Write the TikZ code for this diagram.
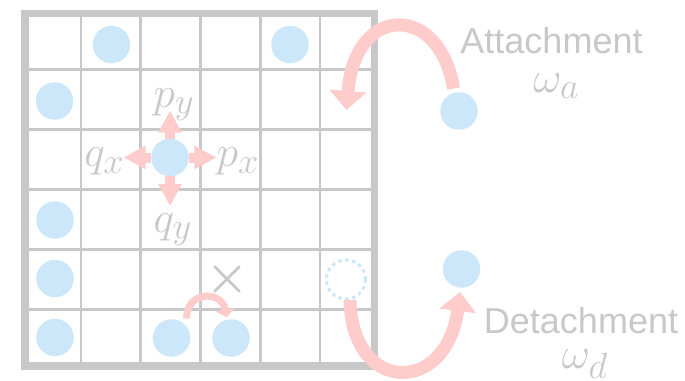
\documentclass[tikz,border=0pt]{standalone}
\usepackage{fontspec}
\newfontfamily\labelsans{Liberation Sans}
\usetikzlibrary{arrows.meta,calc,shapes.misc}
\definecolor{wall}{HTML}{C8C8C8}
\definecolor{label}{HTML}{C8C8C8}
\definecolor{part}{HTML}{CCE6FA}
\definecolor{move}{HTML}{FFCCCC}
\tikzset{
  every node/.style={text=label},
  particle/.style={circle, fill=part, minimum size=0.75cm, inner sep=0pt, outer sep=0pt},
  vacancy/.style={circle, draw=part, line width=0.06cm, dash pattern=on 0.07cm off 0.07cm,
                  minimum size=0.78cm, inner sep=0pt, outer sep=0pt},
  blocked/.style={cross out, draw=label, line width=0.05cm, minimum size=0.46cm, inner sep=0pt},
  rate/.style={font=\fontsize{30}{34}\selectfont, inner sep=0pt, anchor=base},
  caption/.style={font=\labelsans\fontsize{20.5}{24}\selectfont, inner sep=0pt, anchor=base},
  % arrows: four neighbour jumps, exchange with the reservoir, blocked hop
  jump/.style={draw=move, line width=0.2cm, -{Triangle[length=0.44cm,width=0.44cm]}},
  swing/.style={draw=move, line width=0.26cm, -{Triangle[length=0.38cm,width=0.72cm]}},
  hop/.style={draw=move, line width=0.14cm, -{Triangle[length=0.16cm,width=0.38cm]}},
}

\begin{document}
\begin{tikzpicture}
\useasboundingbox (0,0) rectangle (13.7,-7.62);

% ================= lattice =================
\foreach \i in {1,...,5}{
  \draw[wall, line width=0.055cm] (0.425+1.195*\i,-0.27) -- (0.425+1.195*\i,-7.32);
  \draw[wall, line width=0.055cm] (0.5,-0.2-1.197*\i) -- (7.49,-0.2-1.197*\i);
}
\draw[wall, line width=0.15cm] (0.5,-0.27) rectangle (7.49,-7.32);

% occupied sites
\foreach \n/\x/\y in {s1/2.23/-0.89, s2/5.80/-0.89, s3/1.09/-2.02,
                      s4/1.10/-4.40, s5/1.10/-5.57, s6/1.10/-6.75}
  \node[particle] (\n) at (\x,\y) {};

% ---- one particle and its four jump rates ----
\node[particle] (mid) at (3.40,-3.15) {};
\coordinate (pxEnd) at ($(mid)+(0.93,0)$);
\coordinate (qxEnd) at ($(mid)+(-0.93,0)$);
\coordinate (pyEnd) at ($(mid)+(0,0.94)$);
\coordinate (qyEnd) at ($(mid)+(0,-0.97)$);
\draw[jump] (mid) -- (pxEnd);
\draw[jump] (mid) -- (qxEnd);
\draw[jump] (mid) -- (pyEnd);
\draw[jump] (mid) -- (qyEnd);

\node[rate] (py) at (3.48,-2.14) {$p_y$};
\node[rate] (px) at (4.76,-3.34) {$p_x$};
\node[rate] (qx) at (2.09,-3.33) {$q_x$};
\node[rate] (qy) at (3.46,-4.64) {$q_y$};

% ---- exclusion: hop over an occupied site ----
\node[blocked] (cross) at (4.54,-5.58) {};
\node[particle] (b1) at (3.43,-6.76) {};
\node[particle] (b2) at (4.62,-6.76) {};
\coordinate (hopS) at ($(b1)+(0.30,0.39)$);
\coordinate (hopE) at ($(b2)+(-0.09,0.41)$);
\draw[hop] (hopS) .. controls +(0,0.56) and +(-0.09,0.55) .. (hopE);

% ================= reservoir exchange =================
\node[vacancy] (hole) at (6.92,-5.59) {};
\node[particle] (att) at (9.18,-2.22) {};
\node[particle] (det) at (9.23,-5.38) {};

\coordinate (attS) at ($(att)+(-0.11,0.45)$);
\coordinate (attIn) at (6.93,-2.20);
\draw[swing] (attS) .. controls +(-0.27,1.71) and +(0.17,2.14) .. (attIn);

\coordinate (detS) at ($(hole)+(0.08,-0.41)$);
\coordinate (detE) at ($(det)+(-0.03,-0.46)$);
\draw[swing] (detS) .. controls +(0.04,-1.90) and +(-0.26,-2.06) .. (detE);

\node[caption] (attTxt) at (11.03,-1.07) {Attachment};
\node[rate] (wa) at (11.13,-1.84) {$\omega_a$};
\node[caption] (detTxt) at (11.62,-6.66) {Detachment};
\node[rate] (wd) at (11.70,-7.36) {$\omega_d$};

\end{tikzpicture}
\end{document}
